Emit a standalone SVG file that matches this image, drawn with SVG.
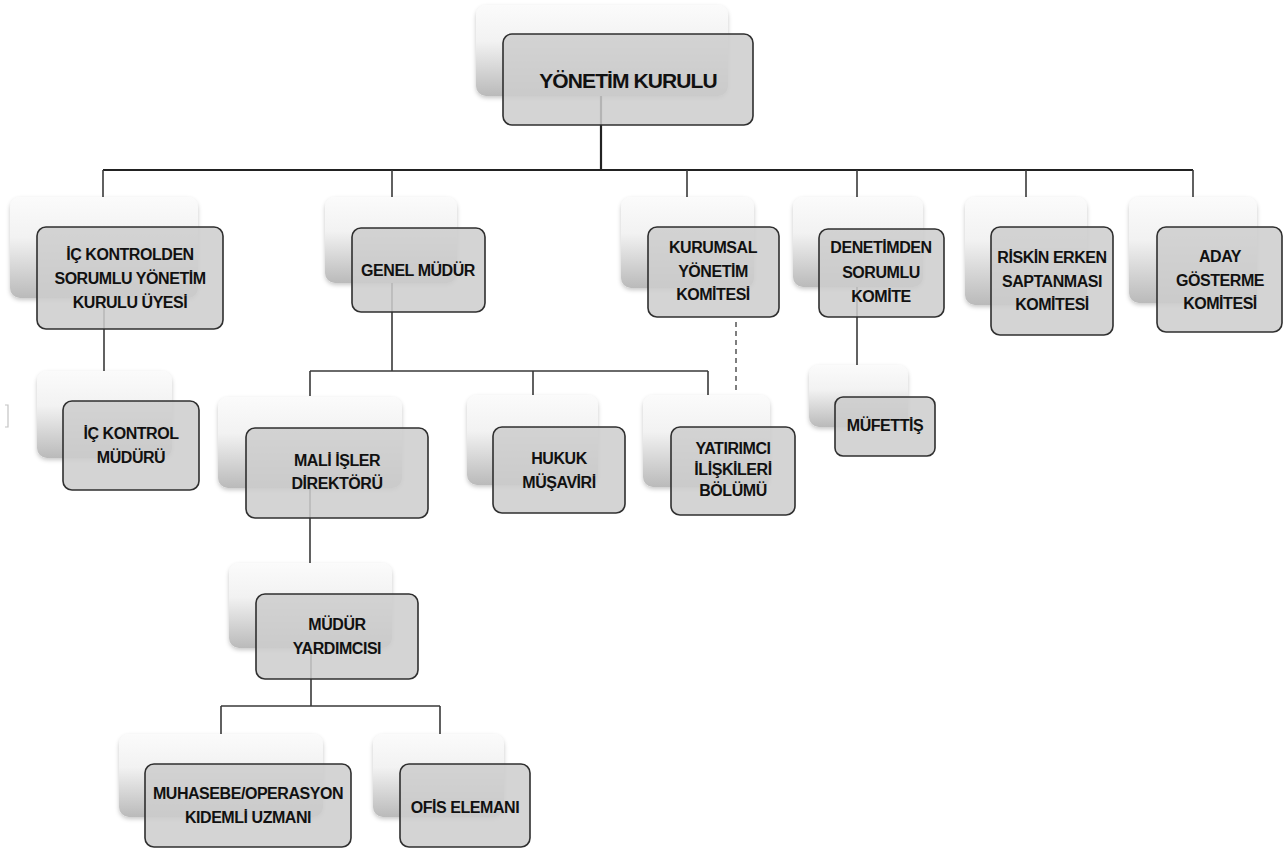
<svg xmlns="http://www.w3.org/2000/svg" width="1284" height="849" viewBox="0 0 1284 849">
<defs>
<linearGradient id="sg" x1="0" y1="0" x2="0" y2="1">
<stop offset="0" stop-color="#fbfbfb"/>
<stop offset="0.4" stop-color="#f2f2f2"/>
<stop offset="1" stop-color="#bababa"/>
</linearGradient>
<filter id="ds" x="-10%" y="-10%" width="120%" height="130%">
<feDropShadow dx="0" dy="2" stdDeviation="2" flood-color="#000" flood-opacity="0.22"/>
</filter>
</defs>
<style>
.sh{fill:url(#sg);filter:url(#ds)}
.mb{fill:#cdcdcd;fill-opacity:0.86;stroke:#2f2f2f;stroke-width:1.6}
.t{font-family:"Liberation Sans",Arial,sans-serif;font-weight:bold;font-size:16px;letter-spacing:-0.45px;fill:#111;text-anchor:middle}
.c{fill:none;stroke:#3a3a3a;stroke-width:1.6}
.ct{fill:none;stroke:#222;stroke-width:2.2}
.dash{fill:none;stroke:#3a3a3a;stroke-width:1.3;stroke-dasharray:5 4}
</style>
<rect width="1284" height="849" fill="#fff"/>
<g id="connectors">
<path class="ct" d="M601 95 V170 M103 170 H1193"/>
<path class="c" d="M103 170 V197 M392 170 V197 M687 170 V197 M857 170 V197 M1026 170 V197 M1193 170 V197"/>
<path class="c" d="M104 298 V371"/>
<path class="c" d="M392 283 V371 M310 371 H708 M310 371 V396 M533 371 V395 M708 371 V395"/>
<path class="dash" d="M736 322 V390"/>
<path class="c" d="M857 287 V365"/>
<path class="c" d="M310 488 V563"/>
<path class="c" d="M311 648 V706 M221 706 H440 M221 706 V734 M440 706 V734"/>
</g>
<path d="M5 405 H8 V427 H5" fill="none" stroke="#c4c4c4" stroke-width="1.2"/>
<g id="n-yonetim-kurulu">
<rect class="sh" x="476" y="5" width="252" height="91" rx="10"/>
<rect class="mb" x="503" y="34" width="250" height="91" rx="9"/>
<text class="t" x="628" y="88" style="font-size:21px;letter-spacing:-0.9px">YÖNETİM KURULU</text>
</g>
<g id="n-ic-kontrolden">
<rect class="sh" x="10" y="197" width="188" height="101" rx="10"/>
<rect class="mb" x="37" y="227" width="186" height="102" rx="9"/>
<text class="t" x="130" y="260">İÇ KONTROLDEN</text>
<text class="t" x="130" y="284">SORUMLU YÖNETİM</text>
<text class="t" x="130" y="308">KURULU ÜYESİ</text>
</g>
<g id="n-genel-mudur">
<rect class="sh" x="325" y="197" width="132" height="86" rx="10"/>
<rect class="mb" x="352" y="228" width="133" height="84" rx="9"/>
<text class="t" x="418" y="276">GENEL MÜDÜR</text>
</g>
<g id="n-kurumsal">
<rect class="sh" x="621" y="197" width="133" height="91" rx="10"/>
<rect class="mb" x="648" y="227" width="131" height="90" rx="9"/>
<text class="t" x="713" y="253">KURUMSAL</text>
<text class="t" x="713" y="277">YÖNETİM</text>
<text class="t" x="713" y="300">KOMİTESİ</text>
</g>
<g id="n-denetimden">
<rect class="sh" x="793" y="197" width="130" height="90" rx="10"/>
<rect class="mb" x="819" y="229" width="125" height="88" rx="9"/>
<text class="t" x="881" y="253">DENETİMDEN</text>
<text class="t" x="881" y="278">SORUMLU</text>
<text class="t" x="881" y="302">KOMİTE</text>
</g>
<g id="n-riskin">
<rect class="sh" x="965" y="197" width="122" height="108" rx="10"/>
<rect class="mb" x="991" y="227" width="122" height="108" rx="9"/>
<text class="t" x="1052" y="263">RİSKİN ERKEN</text>
<text class="t" x="1052" y="287">SAPTANMASI</text>
<text class="t" x="1052" y="310">KOMİTESİ</text>
</g>
<g id="n-aday">
<rect class="sh" x="1129" y="197" width="128" height="106" rx="10"/>
<rect class="mb" x="1157" y="227" width="125" height="105" rx="9"/>
<text class="t" x="1220" y="262">ADAY</text>
<text class="t" x="1220" y="286">GÖSTERME</text>
<text class="t" x="1220" y="309">KOMİTESİ</text>
</g>
<g id="n-ic-kontrol-muduru">
<rect class="sh" x="37" y="371" width="135" height="87" rx="10"/>
<rect class="mb" x="63" y="401" width="136" height="89" rx="9"/>
<text class="t" x="131" y="439">İÇ KONTROL</text>
<text class="t" x="131" y="463">MÜDÜRÜ</text>
</g>
<g id="n-mali-isler">
<rect class="sh" x="218" y="397" width="184" height="91" rx="10"/>
<rect class="mb" x="246" y="428" width="182" height="90" rx="9"/>
<text class="t" x="337" y="466">MALİ İŞLER</text>
<text class="t" x="337" y="489">DİREKTÖRÜ</text>
</g>
<g id="n-hukuk">
<rect class="sh" x="467" y="395" width="131" height="90" rx="10"/>
<rect class="mb" x="493" y="427" width="132" height="86" rx="9"/>
<text class="t" x="559" y="464">HUKUK</text>
<text class="t" x="559" y="488">MÜŞAVİRİ</text>
</g>
<g id="n-yatirimci">
<rect class="sh" x="643" y="395" width="127" height="92" rx="10"/>
<rect class="mb" x="671" y="427" width="124" height="88" rx="9"/>
<text class="t" x="733" y="454">YATIRIMCI</text>
<text class="t" x="733" y="475">İLİŞKİLERİ</text>
<text class="t" x="733" y="496">BÖLÜMÜ</text>
</g>
<g id="n-mufettis">
<rect class="sh" x="809" y="365" width="99" height="62" rx="10"/>
<rect class="mb" x="835" y="397" width="100" height="59" rx="8"/>
<text class="t" x="885" y="431">MÜFETTİŞ</text>
</g>
<g id="n-mudur-yardimcisi">
<rect class="sh" x="229" y="563" width="163" height="85" rx="10"/>
<rect class="mb" x="256" y="594" width="162" height="85" rx="9"/>
<text class="t" x="337" y="630">MÜDÜR</text>
<text class="t" x="337" y="654">YARDIMCISI</text>
</g>
<g id="n-muhasebe">
<rect class="sh" x="119" y="734" width="204" height="83" rx="10"/>
<rect class="mb" x="145" y="764" width="206" height="83" rx="9"/>
<text class="t" x="248" y="799">MUHASEBE/OPERASYON</text>
<text class="t" x="248" y="823">KIDEMLİ UZMANI</text>
</g>
<g id="n-ofis">
<rect class="sh" x="373" y="734" width="131" height="83" rx="10"/>
<rect class="mb" x="400" y="764" width="130" height="83" rx="9"/>
<text class="t" x="465" y="813">OFİS ELEMANI</text>
</g>
</svg>
